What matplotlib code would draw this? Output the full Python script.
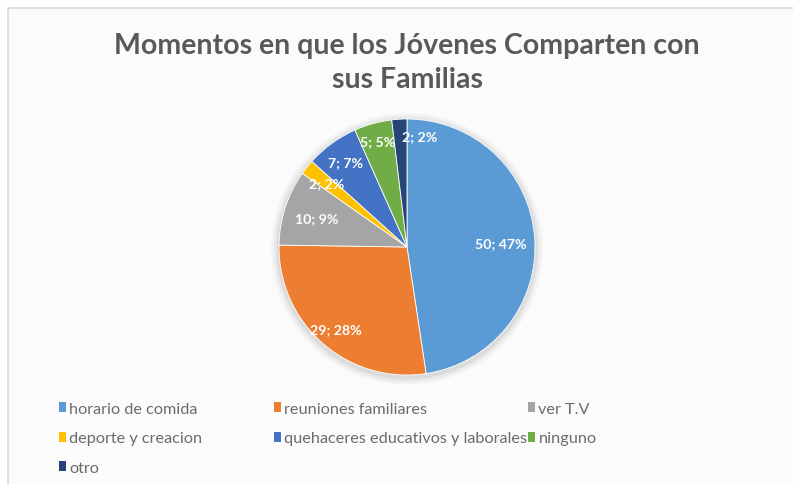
import matplotlib.pyplot as plt
import numpy as np
from matplotlib.patches import Rectangle, Circle

# datos
categorias = ['horario de comida', 'reuniones familiares', 'ver T.V', 'deporte y creacion',
              'quehaceres educativos y laborales', 'ninguno', 'otro']
valores = [50, 29, 10, 2, 7, 5, 2]
porcentajes = ['47%', '28%', '9%', '2%', '7%', '5%', '2%']
colores = ['#5B9BD5', '#ED7D31', '#A5A5A5', '#FFC000', '#4472C4', '#70AD47', '#264478']

titulo = 'Momentos en que los Jóvenes Comparten con\nsus Familias'

plt.rcParams['font.family'] = ['Lato', 'DejaVu Sans']

W, H = 793, 485
fig = plt.figure(figsize=(W / 100, H / 100), dpi=100)
fig.patch.set_facecolor('white')

# marco del gráfico
fig.patches.append(Rectangle((8 / W, -0.01), 1.0, 1 - 9 / H + 0.01, transform=fig.transFigure,
                             facecolor='#fbfbfb', edgecolor='#d9d9d9', linewidth=1.2, zorder=-5))

fig.text(407 / W, 1 - 63 / H, titulo, ha='center', va='center', fontsize=20.5,
         fontweight='bold', color='#595959', linespacing=1.42)

# área del pastel
cx, cy, r = 407, 248, 128
ax = fig.add_axes([(cx - 1.1 * r) / W, 1 - (cy + 1.1 * r) / H, 2.2 * r / W, 2.2 * r / H])
ax.set_aspect('equal')
ax.axis('off')

# sombra suave
for k, a in zip([1.06, 1.04, 1.02], [0.03, 0.04, 0.06]):
    ax.add_patch(Circle((0, -0.015), k, color='#000000', alpha=a, lw=0, zorder=0))

wedges, _ = ax.pie(valores, colors=colores, startangle=90, counterclock=False,
                   radius=1, wedgeprops=dict(linewidth=0.6, edgecolor='white'))
ax.set_xlim(-1.1, 1.1)
ax.set_ylim(-1.1, 1.1)
for w in wedges:
    w.set_zorder(2)

dist = [0.73, 0.85, 0.74, 0.80, 0.82, 0.86, 0.87]
desp = [-2, 0, 0, 0, 0, 0, -10]
for w, v, p, d, s in zip(wedges, valores, porcentajes, dist, desp):
    ang = np.deg2rad((w.theta1 + w.theta2) / 2 + s)
    ax.text(d * np.cos(ang), d * np.sin(ang), f'{v}; {p}', ha='center', va='center',
            fontsize=10.2, fontweight='bold', color='white', zorder=3)

# leyenda en filas como Excel
columnas = [[0, 3, 6], [1, 4], [2, 5]]
xs = [59, 274, 528]
for col, x in zip(columnas, xs):
    leg = fig.legend([wedges[i] for i in col], [categorias[i] for i in col],
                     loc='upper left', bbox_to_anchor=(x / W, 1 - 403 / H),
                     frameon=False, fontsize=11.7, handlelength=0.42, handleheight=0.55,
                     handletextpad=0.22, labelspacing=0.95, borderpad=0, borderaxespad=0,
                     labelcolor='#6b6b6b')
    for h in leg.legend_handles:
        h.set_linewidth(0)

fig.savefig('out.png', dpi=100, facecolor='white')
